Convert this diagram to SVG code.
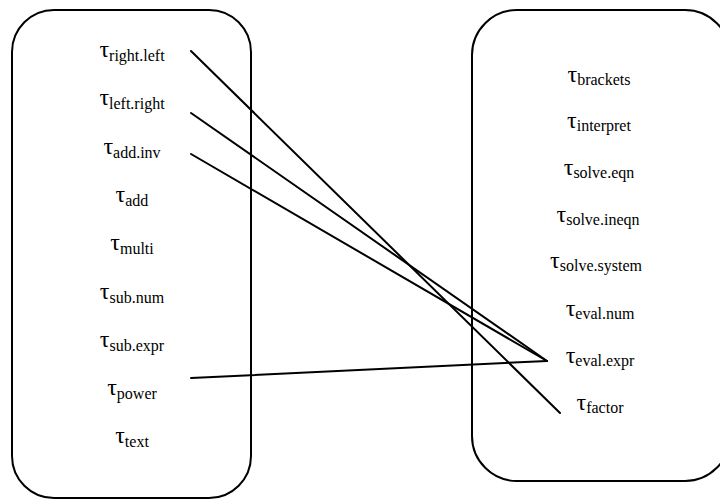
<svg xmlns="http://www.w3.org/2000/svg" width="720" height="500" viewBox="0 0 720 500">
<style>
.box{fill:#fff;stroke:#000;stroke-width:2}
.lbl{font-family:"Liberation Serif","Times New Roman",serif;font-size:24px;fill:#000;text-anchor:middle}
.sub{font-family:"Liberation Serif","Times New Roman",serif;font-size:16px}
.conn line{stroke:#000;stroke-width:2;stroke-linecap:round}
</style>
<rect width="720" height="500" fill="#fff"/>
<g id="left">
<rect class="box" x="12" y="10" width="239" height="488" rx="42" ry="42"/>
<text class="lbl" x="132" y="57">τ<tspan class="sub" dy="4">right.left</tspan></text>
<text class="lbl" x="132" y="105">τ<tspan class="sub" dy="4">left.right</tspan></text>
<text class="lbl" x="132" y="154">τ<tspan class="sub" dy="4">add.inv</tspan></text>
<text class="lbl" x="132" y="202">τ<tspan class="sub" dy="4">add</tspan></text>
<text class="lbl" x="132" y="250">τ<tspan class="sub" dy="4">multi</tspan></text>
<text class="lbl" x="132" y="299">τ<tspan class="sub" dy="4">sub.num</tspan></text>
<text class="lbl" x="132" y="347">τ<tspan class="sub" dy="4">sub.expr</tspan></text>
<text class="lbl" x="132" y="395">τ<tspan class="sub" dy="4">power</tspan></text>
<text class="lbl" x="132" y="443">τ<tspan class="sub" dy="4">text</tspan></text>
</g>
<g id="right">
<rect class="box" x="472" y="10" width="258" height="471" rx="45" ry="45"/>
<text class="lbl" x="599" y="82">τ<tspan class="sub" dy="3">brackets</tspan></text>
<text class="lbl" x="599" y="128">τ<tspan class="sub" dy="3">interpret</tspan></text>
<text class="lbl" x="599" y="175">τ<tspan class="sub" dy="3">solve.eqn</tspan></text>
<text class="lbl" x="598" y="222">τ<tspan class="sub" dy="3">solve.ineqn</tspan></text>
<text class="lbl" x="596" y="268">τ<tspan class="sub" dy="3">solve.system</tspan></text>
<text class="lbl" x="600" y="316">τ<tspan class="sub" dy="3">eval.num</tspan></text>
<text class="lbl" x="600" y="363">τ<tspan class="sub" dy="3">eval.expr</tspan></text>
<text class="lbl" x="600" y="410">τ<tspan class="sub" dy="3">factor</tspan></text>
</g>
<g id="connectors" class="conn">
<line x1="191" y1="51" x2="560" y2="413"/>
<line x1="191" y1="113" x2="547" y2="361"/>
<line x1="191" y1="154" x2="547" y2="361"/>
<line x1="191" y1="378" x2="547" y2="361"/>
</g>
</svg>
